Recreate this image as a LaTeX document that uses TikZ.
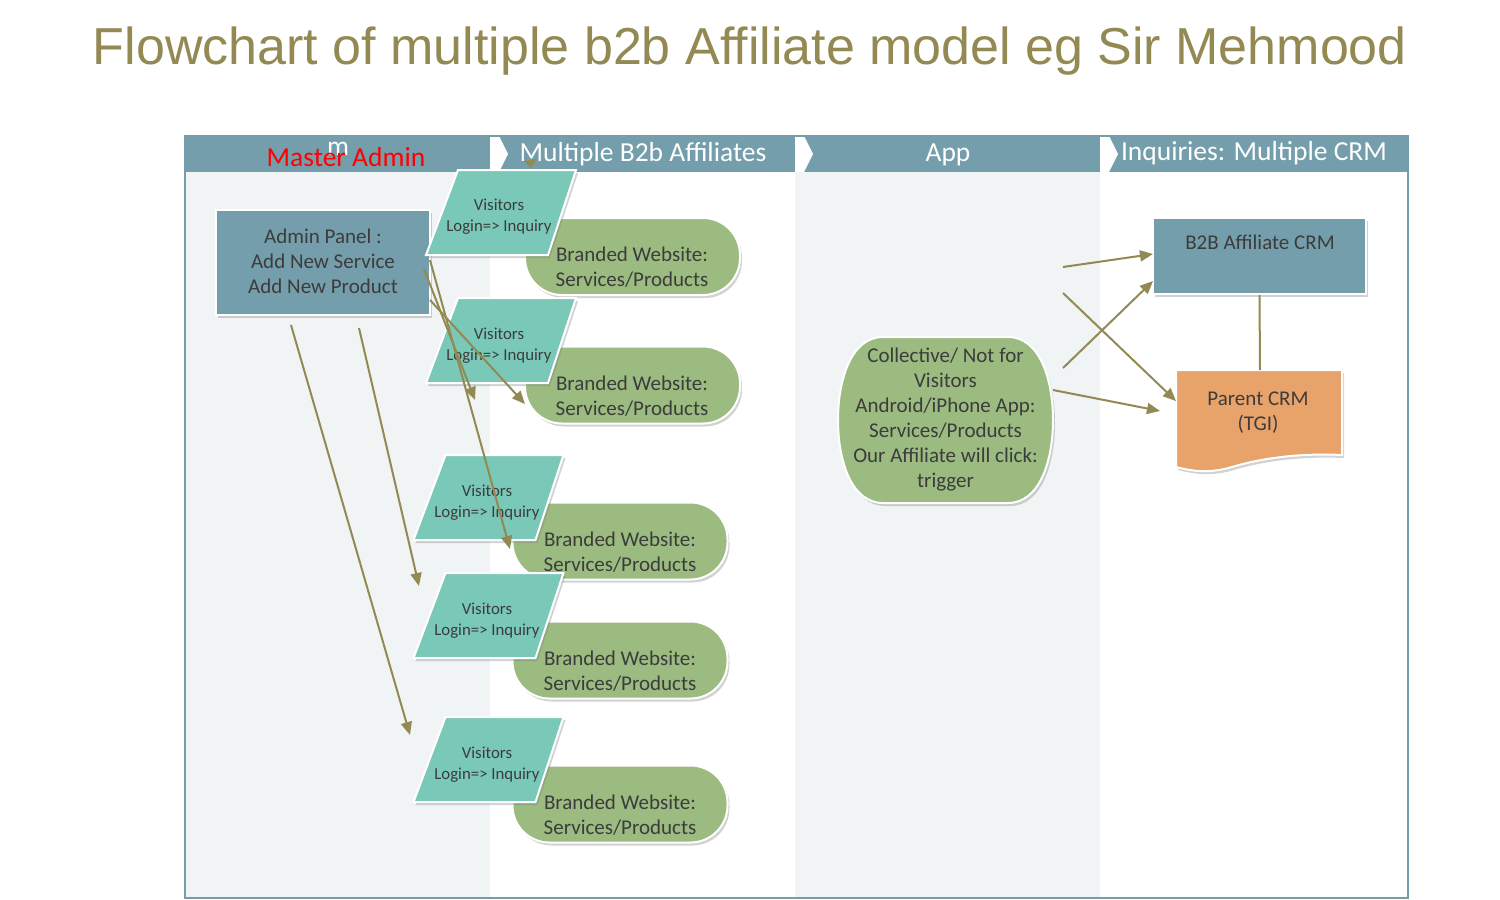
\documentclass[tikz,border=0pt]{standalone}
\usepackage{fontspec}
\setmainfont{Carlito}
\newfontfamily\titlefont{Liberation Sans}
\usetikzlibrary{arrows.meta,shapes.geometric,shadows}
\definecolor{steel}{RGB}{116,158,171}
\definecolor{lanegray}{RGB}{240,244,245}
\definecolor{paracol}{RGB}{122,200,184}
\definecolor{leaf}{RGB}{155,187,128}
\definecolor{orangec}{RGB}{232,163,106}
\definecolor{arrowcol}{RGB}{147,137,83}
\definecolor{titlecol}{RGB}{147,137,83}
\definecolor{darktxt}{RGB}{60,60,60}
\begin{document}
\begin{tikzpicture}[x=1pt,y=-1pt,
  conn/.style={draw=arrowcol, line width=2pt, -{Triangle[length=13pt,width=11pt]}},
  lnk/.style={draw=arrowcol, line width=2pt},
  hdtxt/.style={text=white, font=\fontsize{27.5}{30}\selectfont, anchor=base, inner sep=0},
  boxtxt/.style={text=darktxt, font=\fontsize{21}{25}\selectfont, align=center, inner sep=0},
  smalltxt/.style={text=darktxt, font=\fontsize{16.8}{21}\selectfont, align=center, inner sep=0},
  shd/.style={drop shadow={opacity=0.35, shadow xshift=2pt, shadow yshift=-3pt}},
  steelbox/.style={rectangle, fill=steel, draw=white, line width=2pt, shd, inner sep=0},
  site/.style={rectangle, rounded corners=37pt, fill=leaf, draw=white, line width=2pt, shd, minimum width=215pt, minimum height=77pt, inner sep=0},
  parashape/.style={fill=paracol, draw=white, line width=2pt, shd},
]
\useasboundingbox (0,0) rectangle (1500,900);
\fill[white] (0,0) rectangle (1500,900);

% title
\node[font=\titlefont\fontsize{52}{60}\selectfont, text=titlecol, anchor=base, inner sep=0] (title) at (750,64) {Flowchart of multiple b2b Affiliate model eg Sir Mehmood};

% lanes
\fill[lanegray] (185,172) rectangle (490,898);
\fill[lanegray] (795,172) rectangle (1100,898);
\fill[steel] (185,136) rectangle (1408,172);
\foreach \xb in {490,795,1100}{
  \fill[white] (\xb,136) -- (\xb+9,136) -- (\xb+18,154) -- (\xb+9,172) -- (\xb,172) -- cycle;
}
\draw[steel, line width=1.2pt] (185,136) rectangle (1408,898);

% header texts
\node[hdtxt] (mtxt) at (338,155) {m};
\node[hdtxt, text=red] (master) at (346,166) {Master Admin};
\node[hdtxt] (aff) at (643,161) {Multiple B2b Affiliates};
\node[hdtxt] (app) at (948,161) {App};
\node[hdtxt] (inq) at (1254,160) {Inquiries: Multiple CRM};
\fill[arrowcol] (524,161) -- (537,159) -- (531,168) -- cycle;

% admin panel
\node[steelbox, minimum width=214pt, minimum height=105pt] (admin) at (323,262.5) {};
\node[boxtxt] (admint) at (323,261) {Admin Panel :\\Add New Service\\Add New Product};

% branded websites
\node[site] (w1) at (632.5,256.5) {};
\node[boxtxt] (w1t) at (632,267.5) {Branded Website:\\Services/Products};
\node[site] (w2) at (632.5,385) {};
\node[boxtxt] (w2t) at (632,396.5) {Branded Website:\\Services/Products};
\node[site] (w3) at (620,541) {};
\node[boxtxt] (w3t) at (620,552.5) {Branded Website:\\Services/Products};
\node[site] (w4) at (620,660) {};
\node[boxtxt] (w4t) at (620,671.5) {Branded Website:\\Services/Products};
\node[site] (w5) at (620,804) {};
\node[boxtxt] (w5t) at (620,815.5) {Branded Website:\\Services/Products};

% visitors parallelograms
\foreach \cx/\cy in {501/212.5, 501/340.5, 488.5/497.5, 488.5/615.5, 488.5/759.5}{
  \path[parashape] (\cx-43,\cy-42.5) -- (\cx+75,\cy-42.5) -- (\cx+47,\cy+42.5) -- (\cx-75,\cy+42.5) -- cycle;
}
\node[smalltxt] (v1) at (499,216.5) {Visitors\\Login=> Inquiry};
\node[smalltxt] (v2) at (499,345.5) {Visitors\\Login=> Inquiry};
\node[smalltxt] (v3) at (487,502.5) {Visitors\\Login=> Inquiry};
\node[smalltxt] (v4) at (487,620.5) {Visitors\\Login=> Inquiry};
\node[smalltxt] (v5) at (487,764.5) {Visitors\\Login=> Inquiry};

% app collective shape
\path[fill=leaf, draw=white, line width=2pt, shd] (883,337) -- (1008,337) .. controls (1040,337) and (1053,380) .. (1053,420) .. controls (1053,460) and (1040,503) .. (1008,503) -- (883,503) .. controls (851,503) and (838,460) .. (838,420) .. controls (838,380) and (851,337) .. (883,337) -- cycle;
\node[boxtxt] (col) at (945.5,420) {Collective/ Not for\\Visitors\\Android/iPhone App:\\Services/Products\\Our Affiliate will click:\\trigger};

% CRM
\node[steelbox, minimum width=213pt, minimum height=76pt] (b2b) at (1259.5,256) {};
\node[boxtxt] (b2bt) at (1260,242) {B2B Affiliate CRM};
\path[fill=orangec, draw=white, line width=2pt, shd] (1176,370) -- (1342,370) -- (1342,455) .. controls (1300,453) and (1262,458) .. (1232,467) .. controls (1208,474) and (1192,471) .. (1176,467) -- cycle;
\node[boxtxt] (parent) at (1258,413) {Parent CRM\\(TGI)};
\coordinate (ptop) at (1260,370);
\draw[lnk] (b2b.south) -- (ptop);

% connector end points
\coordinate (a1s) at (1063,267); \coordinate (a1e) at (1153,254);
\coordinate (a2s) at (1063,293); \coordinate (a2e) at (1176,401);
\coordinate (a3s) at (1063,368); \coordinate (a3e) at (1153,281);
\coordinate (a4s) at (1053,390); \coordinate (a4e) at (1160,411);
\coordinate (es) at (291,325); \coordinate (ee) at (410,735);
\coordinate (fs) at (359,328); \coordinate (fe) at (419,586);
\coordinate (gs) at (430,260); \coordinate (ge) at (510,549);
\coordinate (hs) at (424,269); \coordinate (he) at (475,400);
\coordinate (is) at (430,300); \coordinate (ie) at (525,404);

\draw[conn] (a1s) -- (a1e);
\draw[conn] (a2s) -- (a2e);
\draw[conn] (a3s) -- (a3e);
\draw[conn] (a4s) -- (a4e);
\draw[conn] (es) -- (ee);
\draw[conn] (fs) -- (fe);
\draw[conn] (gs) -- (ge);
\draw[conn] (hs) -- (he);
\draw[conn] (is) -- (ie);
\end{tikzpicture}
\end{document}
